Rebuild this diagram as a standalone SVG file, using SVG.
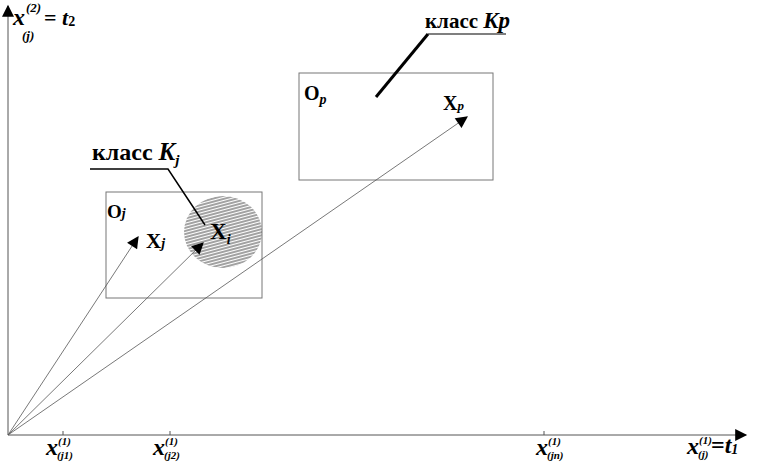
<svg xmlns="http://www.w3.org/2000/svg" width="759" height="462" viewBox="0 0 759 462">
<style>
.t{font-family:"Liberation Serif","Times New Roman",serif;font-weight:bold;fill:#000}
.i{font-style:italic}
.box{fill:none;stroke:#777;stroke-width:1}
.ar{stroke:#555;stroke-width:0.8;fill:none}
.ax{stroke:#555;stroke-width:1;fill:none}
</style>
<defs>
<marker id="ah" viewBox="0 0 10 10" refX="9" refY="5" markerWidth="16" markerHeight="12" markerUnits="userSpaceOnUse" orient="auto">
<path d="M0,0 L10,5 L0,10 z" fill="#000"/>
</marker>
<marker id="axh" viewBox="0 0 10 10" refX="9" refY="5" markerWidth="18" markerHeight="12" markerUnits="userSpaceOnUse" orient="auto">
<path d="M0,0 L10,5 L0,10 z" fill="#000"/>
</marker>
<pattern id="hatch" width="6" height="3" patternUnits="userSpaceOnUse" patternTransform="rotate(-15)">
<line x1="0" y1="1" x2="6" y2="1" stroke="#555" stroke-width="1.1"/>
</pattern>
</defs>
<g id="axes">
<line class="ax" x1="8" y1="435" x2="8" y2="6" marker-end="url(#axh)"/>
<line class="ax" x1="8" y1="435" x2="746" y2="435" marker-end="url(#axh)"/>
<line class="ax" x1="63" y1="431" x2="63" y2="435"/>
<line class="ax" x1="170" y1="431" x2="170" y2="435"/>
<line class="ax" x1="544" y1="431" x2="544" y2="435"/>
</g>
<g id="node-Oj">
<rect class="box" x="106" y="192" width="156" height="106"/>
<text class="t" x="107" y="218" font-size="19">O<tspan class="i" font-size="14">j</tspan></text>
<text class="t" x="146" y="248" font-size="21">X<tspan class="i" font-size="14">j</tspan></text>
</g>
<g id="node-Op">
<rect class="box" x="299" y="73" width="194" height="107"/>
<text class="t" x="304" y="100" font-size="20">O<tspan class="i" font-size="14" dy="4">p</tspan></text>
<text class="t" x="443" y="110" font-size="20">X<tspan class="i" font-size="13">p</tspan></text>
</g>
<g id="node-Ki">
<ellipse cx="223" cy="232" rx="39" ry="36" fill="url(#hatch)"/>
<text class="t" x="210" y="239" font-size="23">X<tspan class="i" font-size="14" dy="5">i</tspan></text>
</g>
<g id="label-Kj">
<text class="t" x="92" y="160" font-size="24">класс <tspan class="i" font-size="25">K</tspan><tspan class="i" font-size="15" dy="5">j</tspan></text>
</g>
<g id="label-Kp">
<text class="t" x="425" y="28" font-size="21">класс <tspan class="i" font-size="23">Kp</tspan></text>
</g>
<g id="connectors">
<line class="ar" x1="8" y1="435" x2="138" y2="237" marker-end="url(#ah)"/>
<line class="ar" x1="8" y1="435" x2="203" y2="243" marker-end="url(#ah)"/>
<line class="ar" x1="8" y1="435" x2="467" y2="117" marker-end="url(#ah)"/>
<polyline points="90,169 168,169 205,225" fill="none" stroke="#000" stroke-width="1.5"/>
<polyline points="428,34 506,34" fill="none" stroke="#000" stroke-width="1.2"/>
<line x1="376" y1="97" x2="428" y2="34" stroke="#000" stroke-width="3"/>
</g>
<g id="axis-labels">
<text class="t i" x="13" y="25" font-size="24">x</text>
<text class="t i" x="26" y="12" font-size="13">(2)</text>
<text class="t i" x="22" y="40" font-size="13">(j)</text>
<text class="t" x="44" y="25" font-size="22">= <tspan class="i">t</tspan><tspan font-size="14" dy="1">2</tspan></text>
<text class="t i" x="46" y="455" font-size="24">x</text>
<text class="t i" x="58" y="445" font-size="11">(1)</text>
<text class="t i" x="57" y="459" font-size="11">(j1)</text>
<text class="t i" x="153" y="455" font-size="24">x</text>
<text class="t i" x="165" y="445" font-size="11">(1)</text>
<text class="t i" x="164" y="459" font-size="11">(j2)</text>
<text class="t i" x="536" y="455" font-size="24">x</text>
<text class="t i" x="548" y="445" font-size="11">(1)</text>
<text class="t i" x="547" y="459" font-size="11">(jn)</text>
<text class="t i" x="687" y="454" font-size="24">x</text>
<text class="t i" x="699" y="444" font-size="11">(1)</text>
<text class="t i" x="698" y="458" font-size="11">(j)</text>
<text class="t" x="711" y="453" font-size="24">=<tspan class="i">t</tspan><tspan class="i" font-size="14" dy="1">1</tspan></text>
</g>
</svg>
